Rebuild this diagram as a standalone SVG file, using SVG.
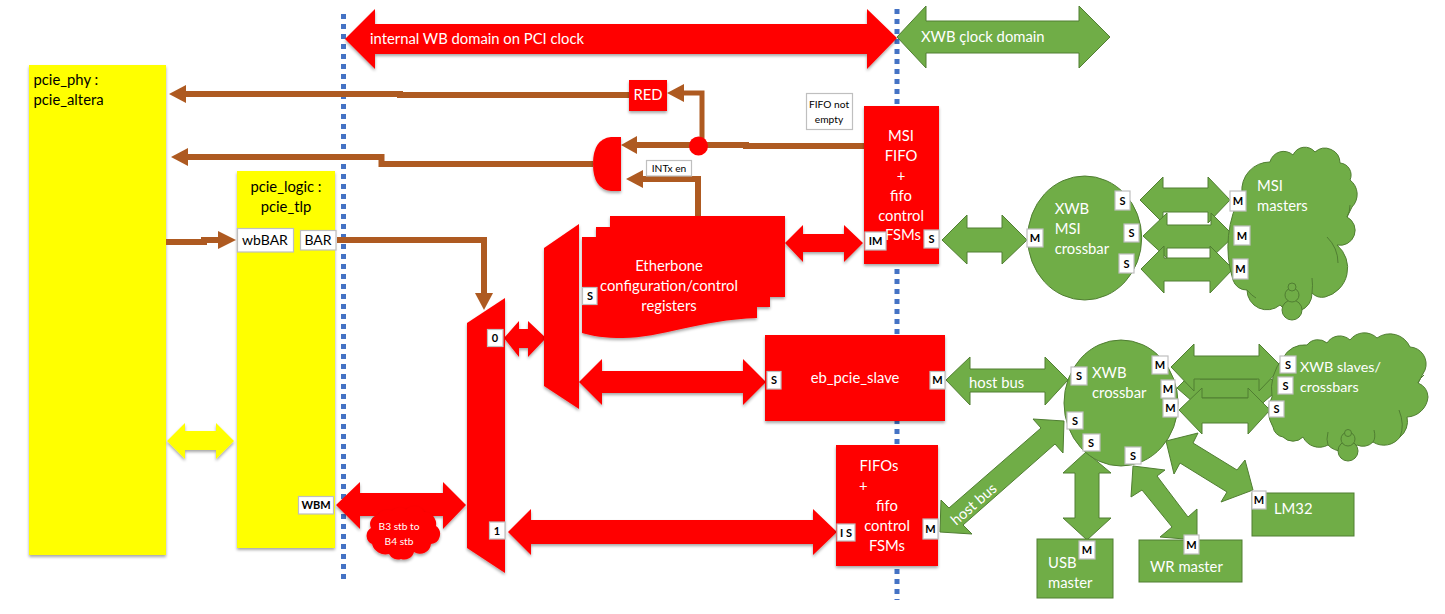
<svg xmlns="http://www.w3.org/2000/svg" width="1445" height="614" viewBox="0 0 1445 614">
<style>
text{font-family:"Lato","Liberation Sans",sans-serif;font-size:14.800px}
.w{fill:#fff}.k{fill:#000}.m{text-anchor:middle}
.r{fill:#f00;filter:url(#sh)}
.y{fill:#ff0;filter:url(#sh)}
.g{fill:#70ad47;stroke:#507e32;stroke-width:1}
.gb{fill:none;stroke:#507e32;stroke-width:1}
.b{fill:none;stroke:#ae5a21;stroke-width:6}
.bh{fill:#ae5a21}
.t{fill:#fff;stroke:#bfbfbf;stroke-width:1.2}
.p{font-size:11px;font-weight:700;fill:#000;text-anchor:middle}
.n{font-size:14px}
.s{font-size:10.200px}
.c{font-size:14.300px}
.d{fill:none;stroke:#4472c4;stroke-width:5;stroke-dasharray:5 5}
</style>
<defs>
<filter id="sh" x="-20%" y="-20%" width="140%" height="140%"><feDropShadow dx="0" dy="2" stdDeviation="1.5" flood-color="#000" flood-opacity="0.35"/></filter>
</defs>
<g id="domain-lines">
<path class="d" d="M343.500 14V580"/>
<path class="d" d="M897 9V600"/>
</g>
<g id="pcie_phy"><rect class="y" x="29" y="65" width="137" height="490"/><text class="k" x="33.500" y="85">pcie_phy :</text><text class="k" x="33.500" y="105">pcie_altera</text></g>
<g id="pcie_logic"><rect class="y" x="237" y="171" width="98" height="377"/><text class="k m" x="286" y="192">pcie_logic :</text><text class="k m" x="286" y="212">pcie_tlp</text>
<rect class="t" x="237.500" y="228.500" width="56" height="23.500"/><text class="k m n" x="265" y="245">wbBAR</text>
<rect class="t" x="300.500" y="230.500" width="35.500" height="19.500"/><text class="k m n" x="318" y="245">BAR</text>
<rect class="t" x="298.500" y="496.500" width="35" height="17.500"/><text class="p" x="316" y="509">WBM</text></g>
<g id="connectors">
<path class="b" d="M629 95H400V94H186"/><polygon class="bh" points="169,94 186,85 186,103"/>
<path class="b" d="M593 164H381.500V157H188"/><polygon class="bh" points="171,157 188,148 188,166"/>
<path class="b" d="M166 242H204V240H218"/><polygon class="bh" points="236,240 218,231 218,249"/>
<path class="b" d="M337 240H484V296"/><polygon class="bh" points="484,310 475,293 493,293"/>
<path class="b" d="M877 146H746V145H637"/><polygon class="bh" points="621,145 637,136 637,154"/>
<path class="b" style="stroke-width:5" d="M702 146V93H684"/><polygon class="bh" points="667,93 684,84 684,102"/>
<path class="b" d="M698 216V179H643"/><polygon class="bh" points="626,179 643,170 643,188"/>
<polygon class="r" points="345,39 375,9 375,24 867,24 867,9 897,38 867,69 867,54 375,54 375,69"/>
<polygon class="g" points="897,37 926,6 926,21 1079,21 1079,6 1110,37 1079,68 1079,53 926,53 926,68"/>
<polygon class="r" points="785,243 803,225 803,234 844,234 844,225 863,243 844,262 844,252 803,252 803,262"/>
<polygon class="r" points="504,338 519,321 519,329 528,329 528,321 546,338 528,357 528,348 519,348 519,357"/>
<polygon class="r" points="579,382 602,359 602,371 743,371 743,359 766,382 743,405 743,393 602,393 602,405"/>
<polygon class="r" points="508,532 531,509 531,520 813,520 813,509 837,532 813,555 813,544 531,544 531,555"/>
<polygon class="y" points="167,441 185,423 185,431 216,431 216,423 234,441 216,459 216,450 185,450 185,459"/>
<polygon class="r" points="336,505 360,482 360,493 443,493 443,482 466,505 443,529 443,516 360,516 360,529"/>
<polygon class="g" points="942,240 967,215 967,228 1002,228 1002,215 1027,240 1002,264 1002,252 967,252 967,264"/>
<polygon class="g" points="1140,200 1163,177 1163,188 1208,188 1208,177 1230,200 1208,223 1208,212 1163,212 1163,223"/>
<polygon class="g" points="1143,236 1167,213 1167,225 1211,225 1211,213 1234,236 1211,258 1211,248 1167,248 1167,258"/>
<polygon class="g" points="1141,269 1164,246 1164,258 1210,258 1210,246 1233,269 1210,293 1210,281 1164,281 1164,293"/>
<polygon class="g" points="1177,388 1200,365 1200,379 1257,379 1257,365 1280,388 1257,408 1257,398 1200,398 1200,408"/>
<polygon class="g" points="1179,410 1202,388 1202,398 1248,398 1248,388 1270,410 1248,434 1248,423 1202,423 1202,434"/>
<polygon class="g" points="1171,367 1194,344 1194,356 1259,356 1259,344 1282,367 1259,391 1259,379 1194,379 1194,391"/>
<polygon class="g" points="946,380 970,357 970,369 1045,369 1045,357 1068,380 1045,405 1045,392 970,392 970,405"/>
<polygon class="g" points="1064,421 1033,419 1041,428 949,508 941,500 940,532 972,534 963,525 1055,444 1063,453"/>
<polygon class="g" points="1086,452 1111,473 1099,473 1099,518 1111,518 1087,540 1063,518 1075,518 1075,473 1063,473"/>
<polygon class="g" points="1133,466 1165,470 1157,476 1188,517 1197,509 1197,540 1160,537 1172,527 1142,490 1131,497"/>
<polygon class="g" points="1166,441 1198,433 1193,443 1237,470 1245,460 1253,490 1221,502 1227,492 1180,463 1174,474"/>
</g>
<g id="arrow-labels">
<text class="w" x="370" y="44">internal WB domain on PCI clock</text>
<text class="w" x="921" y="42">XWB çlock domain</text>
<text class="w" x="969" y="388">host bus</text>
<text class="w m" transform="translate(977 508) rotate(-41)">host bus</text>
</g>
<g id="junction"><circle cx="698.500" cy="146" r="9.500" fill="#f00"/></g>
<g id="red-gate"><path class="r" d="M621 137H611Q593 139 593 164Q593 189 611 191H621Z"/></g>
<g id="red-reg"><rect class="r" x="629" y="80" width="38" height="31"/><text class="w m" x="648" y="100">RED</text></g>
<g id="fifo-not-empty"><rect class="t" x="806.500" y="93.500" width="46" height="36"/><text class="k m s" x="829" y="108">FIFO not</text><text class="k m s" x="829" y="123">empty</text></g>
<g id="intx-en"><rect class="t" x="646.500" y="160.500" width="45" height="15.500"/><text class="k m s" x="669" y="172">INTx en</text></g>
<g id="msi-fifo"><rect class="r" x="864" y="106" width="75" height="158"/>
<text class="w m" x="901" y="141">MSI</text><text class="w m" x="901" y="161">FIFO</text><text class="w m" x="901" y="181">+</text><text class="w m" x="901" y="201">fifo</text><text class="w m" x="901" y="221">control</text><text class="w m" x="903" y="240">FSMs</text>
<rect class="t" x="865" y="232" width="21" height="18"/><text class="p" x="875.500" y="245">IM</text>
<rect class="t" x="924" y="230" width="15" height="18"/><text class="p" x="931.500" y="243">S</text></g>
<g id="etherbone"><path class="r" d="M610 216H785V297H770V307H757V318C700 320 660 338 623 338C605 338 592 336 582 333V237H596V227H610Z"/>
<text class="w m" x="669" y="271">Etherbone</text><text class="w m" x="669" y="291">configuration/control</text><text class="w m" x="669" y="311">registers</text>
<rect class="t" x="582.500" y="287.500" width="14.500" height="17"/><text class="p" x="590" y="300">S</text></g>
<g id="mux-upper"><polygon class="r" points="544,248 579,224 579,409 544,386"/></g>
<g id="mux-lower"><polygon class="r" points="467,323 505,298 505,573 467,548"/>
<rect class="t" x="487.500" y="329.500" width="15.500" height="17"/><text class="p" x="495" y="342">0</text>
<rect class="t" x="489.500" y="522" width="15.500" height="17"/><text class="p" x="497" y="535">1</text></g>
<g id="eb_pcie_slave"><rect class="r" x="765" y="335" width="180" height="86"/><text class="w m" x="855" y="383">eb_pcie_slave</text>
<rect class="t" x="767" y="371.500" width="14" height="17.500"/><text class="p" x="774" y="384">S</text>
<rect class="t" x="930" y="371.500" width="15" height="17.500"/><text class="p" x="937.500" y="384">M</text></g>
<g id="fifos"><rect class="r" x="836" y="445" width="102" height="121"/>
<text class="w" x="859.500" y="471">FIFOs</text><text class="w" x="859" y="491">+</text><text class="w m" x="887" y="511">fifo</text><text class="w m" x="887" y="531">control</text><text class="w m" x="887" y="551">FSMs</text>
<rect class="t" x="837" y="524" width="18" height="17"/><text class="p" x="846" y="537">I S</text>
<rect class="t" x="923" y="519" width="15" height="20"/><text class="p" x="930.500" y="533">M</text></g>
<g id="b3-cloud"><path class="r" d="M371 528A9 9 0 0 1 378 515A11 11 0 0 1 392 511A10 10 0 0 1 406 510A11 11 0 0 1 424 512A12 12 0 0 1 436 526A10 10 0 0 1 431 544A11 11 0 0 1 414 552A10 10 0 0 1 401 559A10 10 0 0 1 389 554A14 14 0 0 1 372 544A9 9 0 0 1 371 528Z"/><text class="w m s" x="399" y="530">B3 stb to</text><text class="w m s" x="399" y="545">B4 stb</text></g>
<g id="msi-crossbar"><ellipse class="g" cx="1084.700" cy="238" rx="57" ry="62"/><text class="w" x="1054.700" y="214">XWB</text><text class="w" x="1054.700" y="234">MSI</text><text class="w" x="1054.700" y="254">crossbar</text>
<rect class="t" x="1115" y="191" width="15" height="19"/><text class="p" x="1122.500" y="205">S</text>
<rect class="t" x="1124" y="224" width="15" height="18"/><text class="p" x="1131.500" y="237">S</text>
<rect class="t" x="1119" y="254" width="15" height="19"/><text class="p" x="1126.500" y="268">S</text>
<rect class="t" x="1027" y="229" width="16" height="18"/><text class="p" x="1035" y="242">M</text></g>
<g id="msi-masters"><path class="g" d="M1242 193A28 28 0 0 1 1270 162A14 14 0 0 1 1293 155A13 13 0 0 1 1315 152A15 15 0 0 1 1340 163A12 12 0 0 1 1350 180A18 18 0 0 1 1352 207L1347 217A15 15 0 0 1 1337 245A30 30 0 0 1 1325 297A14 14 0 0 1 1312 293A18 18 0 0 1 1280 305A20 20 0 0 1 1247 290A14 14 0 0 1 1233 280A110 110 0 0 1 1242 193Z"/>
<path class="gb" d="M1327 237Q1338 248 1338 263M1347 217Q1350 212 1350 205M1312 293Q1313 285 1312 278M1247 290Q1252 296 1256 298"/>
<circle class="g" cx="1292" cy="310" r="10"/><circle class="g" cx="1292" cy="295" r="7"/><circle class="g" cx="1292" cy="287" r="4"/>
<text class="w" x="1257" y="191">MSI</text><text class="w" x="1257" y="211">masters</text>
<rect class="t" x="1230" y="191" width="16" height="20"/><text class="p" x="1238" y="205">M</text>
<rect class="t" x="1234" y="226" width="16" height="19"/><text class="p" x="1242" y="240">M</text>
<rect class="t" x="1233" y="259" width="15" height="20"/><text class="p" x="1240.500" y="273">M</text></g>
<g id="xwb-crossbar"><ellipse class="g" cx="1121" cy="403" rx="57" ry="63"/><text class="w" x="1092" y="378">XWB</text><text class="w" x="1092" y="398">crossbar</text>
<rect class="t" x="1152" y="356" width="16" height="18"/><text class="p" x="1160" y="369">M</text>
<rect class="t" x="1161" y="380" width="14" height="18"/><text class="p" x="1168" y="393">M</text>
<rect class="t" x="1163" y="399" width="15" height="18"/><text class="p" x="1170.500" y="412">M</text>
<rect class="t" x="1071" y="367" width="16" height="18"/><text class="p" x="1079" y="380">S</text>
<rect class="t" x="1067" y="412" width="16" height="17"/><text class="p" x="1075" y="425">S</text>
<rect class="t" x="1083" y="434" width="17" height="17"/><text class="p" x="1091" y="447">S</text>
<rect class="t" x="1125" y="447" width="16" height="17"/><text class="p" x="1133" y="460">S</text></g>
<g id="xwb-slaves"><path class="g" d="M1283 358A24 24 0 0 1 1307 345A14 14 0 0 1 1327 343A15 15 0 0 1 1350 340A18 18 0 0 1 1377 338A22 22 0 0 1 1410 347A17 17 0 0 1 1425 370L1418 383A16 16 0 0 1 1428 397A22 22 0 0 1 1407 417A20 20 0 0 1 1400 437A20 20 0 0 1 1373 442A14 14 0 0 1 1357 445A20 20 0 0 1 1328 445A18 18 0 0 1 1303 437A14 14 0 0 1 1283 437A12 12 0 0 1 1273 427A30 30 0 0 1 1272 397A50 50 0 0 1 1283 358Z"/>
<path class="gb" d="M1400 437Q1405 425 1399 410M1373 442Q1376 438 1374 430M1328 445Q1326 440 1328 432M1418 383Q1420 378 1424 375"/>
<circle class="g" cx="1348" cy="451" r="10"/><circle class="g" cx="1348" cy="439" r="7"/><circle class="g" cx="1348" cy="433" r="3.500"/>
<text class="w c" x="1300" y="372">XWB slaves/</text><text class="w c" x="1300" y="392">crossbars</text>
<rect class="t" x="1280" y="356" width="16" height="17"/><text class="p" x="1288" y="369">S</text>
<rect class="t" x="1278" y="377" width="15" height="17"/><text class="p" x="1285.500" y="390">S</text>
<rect class="t" x="1269" y="401" width="15" height="16"/><text class="p" x="1276.500" y="413">S</text></g>
<g id="usb-master"><rect class="g" x="1037" y="539" width="76" height="59"/><text class="w" x="1048" y="568">USB</text><text class="w" x="1048" y="588">master</text>
<rect class="t" x="1079" y="541" width="16" height="18"/><text class="p" x="1087" y="554">M</text></g>
<g id="wr-master"><rect class="g" x="1139" y="540" width="103" height="42"/><text class="w" x="1150" y="572">WR master</text>
<rect class="t" x="1184" y="535" width="15" height="19"/><text class="p" x="1191.500" y="549">M</text></g>
<g id="lm32"><rect class="g" x="1252" y="493" width="102" height="43"/><text class="w" x="1274" y="514">LM32</text>
<rect class="t" x="1252" y="491" width="14" height="18"/><text class="p" x="1259" y="504">M</text></g>
</svg>
